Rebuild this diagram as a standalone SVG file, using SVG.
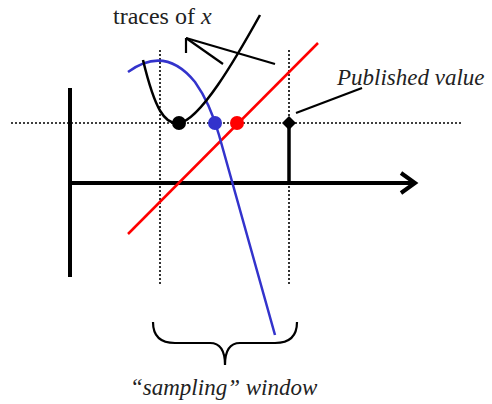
<svg xmlns="http://www.w3.org/2000/svg" width="492" height="404" viewBox="0 0 492 404">
<style>
.dot{stroke:#000;stroke-width:1.6;stroke-dasharray:2,2;fill:none}
.axis{stroke:#000;stroke-width:4;fill:none}
.thin{stroke:#000;stroke-width:2.2;fill:none}
</style>
<rect width="492" height="404" fill="#fff"/>
<g id="guides">
<line class="dot" x1="11" y1="123" x2="462" y2="123"/>
<line class="dot" x1="160" y1="50" x2="160" y2="285"/>
<line class="dot" x1="289" y1="50" x2="289" y2="285"/>
</g>
<g id="axes">
<line class="axis" x1="70" y1="88" x2="70" y2="277"/>
<line class="axis" x1="68" y1="183" x2="414" y2="183"/>
<polyline class="axis" points="401,173 415,183 401,193" stroke-linejoin="miter"/>
</g>
<g id="connectors">
<line class="thin" x1="186" y1="38" x2="223" y2="64"/>
<line class="thin" x1="186" y1="38" x2="275" y2="64"/>
<line class="thin" x1="186" y1="38" x2="186" y2="53"/>
<line class="thin" x1="296" y1="113" x2="362" y2="88"/>
</g>
<g id="red-trace">
<line x1="128" y1="234" x2="318" y2="43" stroke="#f00" stroke-width="2.5"/>
</g>
<g id="blue-trace">
<path d="M128,72 Q165,45 195,82 Q210,103 219,135 L275,335" fill="none" stroke="#3333cc" stroke-width="2.5"/>
</g>
<g id="black-trace">
<path d="M143,60 C155,110 165,125 179,123 C200,120 235,60 260,15" fill="none" stroke="#000" stroke-width="2.5"/>
</g>
<g id="points">
<circle cx="179" cy="123" r="7" fill="#000"/>
<circle cx="215" cy="123" r="7" fill="#3333cc"/>
<circle cx="237" cy="123" r="7" fill="#f00"/>
<line x1="289" y1="123" x2="289" y2="183" stroke="#000" stroke-width="3.5"/>
<polygon points="289,116 296,123 289,130 282,123" fill="#000"/>
</g>
<g id="brace">
<path d="M153,322 Q153,343 175,343 L210,343 Q225,343 225,365 Q225,343 240,343 L275,343 Q297,343 297,322" fill="none" stroke="#000" stroke-width="2.2"/>
</g>
<g id="labels" font-family="'Liberation Serif', 'DejaVu Serif', serif" fill="#222">
<text x="113" y="24" font-size="24">traces of <tspan font-style="italic">x</tspan></text>
<text x="337" y="85" font-size="23" font-style="italic">Published value</text>
<text x="130" y="395" font-size="23" font-style="italic">“sampling” window</text>
</g>
</svg>
